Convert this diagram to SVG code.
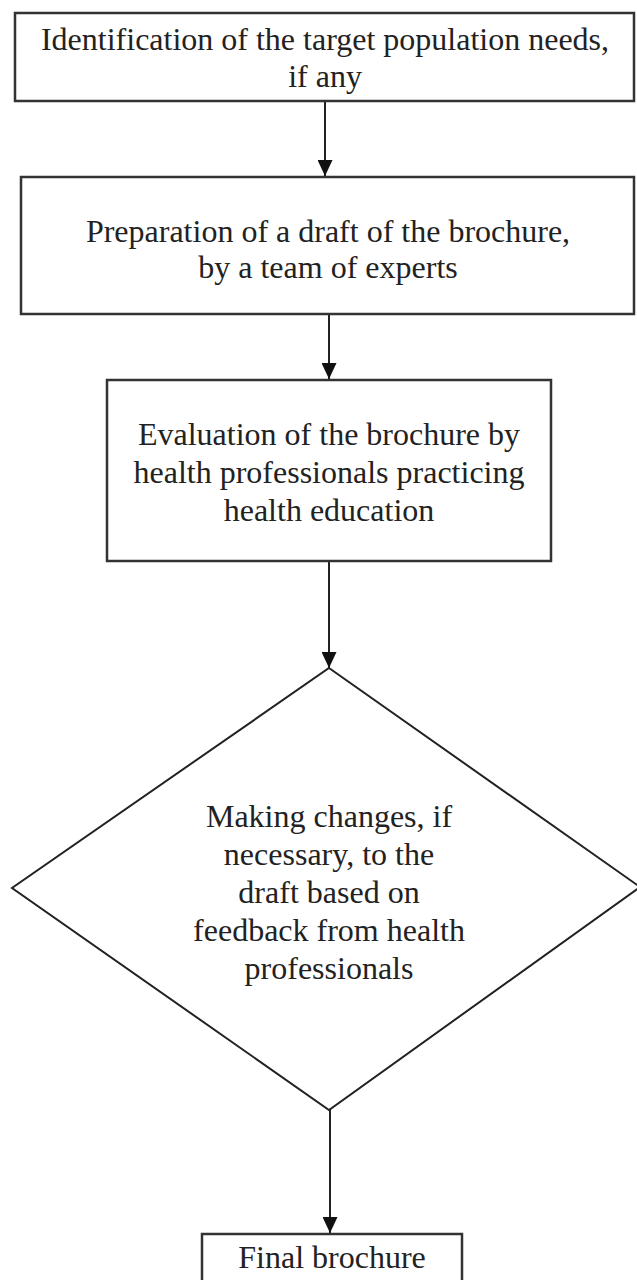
<svg xmlns="http://www.w3.org/2000/svg" width="637" height="1280" viewBox="0 0 637 1280">
<style>
  .box { fill: #ffffff; stroke: #333333; stroke-width: 2.5; }
  .dia { fill: #ffffff; stroke: #222222; stroke-width: 2; }
  .lbl { font-family: "Liberation Serif", "Times New Roman", serif; font-size: 32px; fill: #222222; text-anchor: middle; }
  .conn { stroke: #222222; stroke-width: 2; fill: none; }
</style>
<defs>
  <marker id="arrow" viewBox="0 0 16 15" refX="16" refY="7.5" markerWidth="16" markerHeight="15" markerUnits="userSpaceOnUse" orient="auto">
    <path d="M0,0 L16,7.5 L0,15 z" fill="#111111"/>
  </marker>
</defs>
<rect width="637" height="1280" fill="#ffffff"/>
<g id="connectors">
  <line class="conn" x1="325" y1="102" x2="325" y2="176" marker-end="url(#arrow)"/>
  <line class="conn" x1="329" y1="315" x2="329" y2="379" marker-end="url(#arrow)"/>
  <line class="conn" x1="329" y1="562" x2="329" y2="668" marker-end="url(#arrow)"/>
  <line class="conn" x1="330" y1="1110" x2="330" y2="1233" marker-end="url(#arrow)"/>
</g>
<g id="node1">
  <rect class="box" x="15" y="13" width="619" height="88"/>
  <text class="lbl" x="325" y="50">Identification of the target population needs,</text>
  <text class="lbl" x="325" y="87">if any</text>
</g>
<g id="node2">
  <rect class="box" x="21" y="177" width="613" height="137"/>
  <text class="lbl" x="328" y="242">Preparation of a draft of the brochure,</text>
  <text class="lbl" x="328" y="278">by a team of experts</text>
</g>
<g id="node3">
  <rect class="box" x="107" y="380" width="444" height="181"/>
  <text class="lbl" x="329" y="445">Evaluation of the brochure by</text>
  <text class="lbl" x="329" y="483">health professionals practicing</text>
  <text class="lbl" x="329" y="521">health education</text>
</g>
<g id="node4">
  <polygon class="dia" points="329,668 640,887 329,1110 12,888"/>
  <text class="lbl" x="329" y="827">Making changes, if</text>
  <text class="lbl" x="329" y="865">necessary, to the</text>
  <text class="lbl" x="329" y="903">draft based on</text>
  <text class="lbl" x="329" y="941">feedback from health</text>
  <text class="lbl" x="329" y="979">professionals</text>
</g>
<g id="node5">
  <rect class="box" x="202" y="1234" width="260" height="60"/>
  <text class="lbl" x="332" y="1268">Final brochure</text>
</g>
</svg>
